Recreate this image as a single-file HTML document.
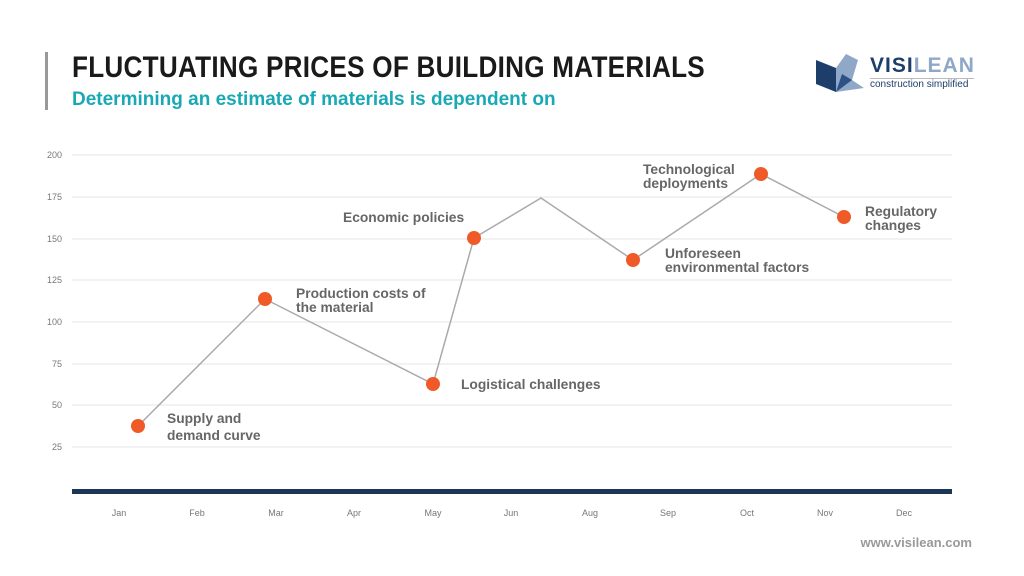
<!DOCTYPE html>
<html><head><style>
body{margin:0;width:1024px;height:576px;background:#fff;font-family:"Liberation Sans",sans-serif;overflow:hidden;position:relative}
.t{position:absolute;white-space:nowrap}
</style></head><body>
<div style="position:absolute;left:45px;top:52px;width:3px;height:58px;background:#999"></div>
<div class="t" style="left:72px;top:51px;font-size:30px;font-weight:900;color:#1a1a1a;letter-spacing:0.3px;transform:scaleX(0.87);transform-origin:left top">FLUCTUATING PRICES OF BUILDING MATERIALS</div>
<div class="t" style="left:72px;top:89px;font-size:19px;font-weight:bold;color:#19a9b5">Determining an estimate of materials is dependent on</div>
<svg style="position:absolute;left:812px;top:52px" width="56" height="42"><polygon points="4,8 24,16 24,40 4,32" fill="#1d3e6a"/><polygon points="24,16 34,2 46,8 40,28 52,36 24,40" fill="#8fa8c8"/><polygon points="30,22 40,28 24,40" fill="#2d5285"/></svg>
<div class="t" style="left:870px;top:54px;font-size:21px;font-weight:bold;letter-spacing:1px"><span style="color:#1d3e6a">VISI</span><span style="color:#8fa8c8">LEAN</span></div>
<div style="position:absolute;left:870px;top:78px;width:104px;height:1px;background:#bbb"></div>
<div class="t" style="left:870px;top:79px;font-size:10px;color:#1d3e6a">construction simplified</div>
<svg style="position:absolute;left:0;top:0" width="1024" height="576" font-family="Liberation Sans,sans-serif">
<g stroke="#e6e6e6" stroke-width="1">
<line x1="72" x2="952" y1="155" y2="155"/><line x1="72" x2="952" y1="197" y2="197"/><line x1="72" x2="952" y1="239" y2="239"/><line x1="72" x2="952" y1="280" y2="280"/><line x1="72" x2="952" y1="322" y2="322"/><line x1="72" x2="952" y1="364" y2="364"/><line x1="72" x2="952" y1="405" y2="405"/><line x1="72" x2="952" y1="447" y2="447"/>
</g>
<g font-size="9" fill="#777" text-anchor="end">
<text x="62" y="158">200</text><text x="62" y="200">175</text><text x="62" y="242">150</text><text x="62" y="283">125</text><text x="62" y="325">100</text><text x="62" y="367">75</text><text x="62" y="408">50</text><text x="62" y="450">25</text>
</g>
<rect x="72" y="489" width="880" height="5" fill="#1d3557"/>
<g font-size="9" fill="#777" text-anchor="middle">
<text x="119" y="516">Jan</text><text x="197" y="516">Feb</text><text x="276" y="516">Mar</text><text x="354" y="516">Apr</text><text x="433" y="516">May</text><text x="511" y="516">Jun</text><text x="590" y="516">Aug</text><text x="668" y="516">Sep</text><text x="747" y="516">Oct</text><text x="825" y="516">Nov</text><text x="904" y="516">Dec</text>
</g>
<polyline points="138,426 265,299 433,384 474,238 541,198 633,260 761,174 844,217" fill="none" stroke="#aaa" stroke-width="1.5"/>
<g fill="#f05a28"><circle cx="138" cy="426" r="7"/><circle cx="265" cy="299" r="7"/><circle cx="433" cy="384" r="7"/><circle cx="474" cy="238" r="7"/><circle cx="633" cy="260" r="7"/><circle cx="761" cy="174" r="7"/><circle cx="844" cy="217" r="7"/></g>
<g font-size="13.8" fill="#666" font-weight="bold">
<text x="167" y="423">Supply and</text><text x="167" y="440">demand curve</text>
<text x="296" y="298">Production costs of</text><text x="296" y="312">the material</text>
<text x="461" y="389">Logistical challenges</text>
<text x="343" y="222">Economic policies</text>
<text x="665" y="258">Unforeseen</text><text x="665" y="272">environmental factors</text>
<text x="643" y="174">Technological</text><text x="643" y="188">deployments</text>
<text x="865" y="216">Regulatory</text><text x="865" y="230">changes</text>
</g>
<text x="972" y="547" font-size="13" fill="#999" text-anchor="end" font-weight="bold">www.visilean.com</text>
</svg>
</body></html>
